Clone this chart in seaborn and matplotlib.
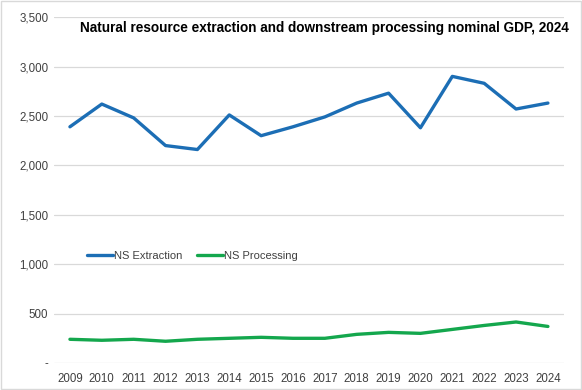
import matplotlib
matplotlib.use("Agg")
import matplotlib.pyplot as plt
import matplotlib.ticker as mticker
import seaborn as sns
import pandas as pd

years = list(range(2009, 2025))
extraction = [2390, 2620, 2480, 2200, 2160, 2510, 2300, 2390, 2490, 2630, 2730, 2380, 2900, 2830, 2570, 2630]
processing = [240, 230, 240, 220, 240, 250, 260, 250, 250, 290, 310, 300, 340, 380, 415, 370]
series_names = ["NS Extraction", "NS Processing"]
title = "Natural resource extraction and downstream processing nominal GDP, 2024"

df = pd.DataFrame({
    "year": years * 2,
    "value": extraction + processing,
    "series": [series_names[0]] * len(years) + [series_names[1]] * len(years),
})

sns.set_style("white")
plt.rcParams['font.family'] = ['Liberation Sans', 'DejaVu Sans']

fig = plt.figure(figsize=(5.82, 3.90), dpi=100)
ax = fig.add_axes([0.0928, 0.0692, 0.876, 0.887])

palette = {series_names[0]: "#1c6eb5", series_names[1]: "#14a74d"}
sns.lineplot(data=df, x="year", y="value", hue="series", palette=palette,
             linewidth=2.4, ax=ax, legend=True)

ax.set_xlim(2008.5, 2024.5)
ax.set_ylim(0, 3500)
ax.set_xticks(years)
ax.set_xticklabels([str(y) for y in years])
ax.set_yticks(range(0, 3501, 500))
ax.yaxis.set_major_formatter(mticker.FuncFormatter(lambda v, p: "-" if v == 0 else f"{int(v):,}"))
ax.grid(axis="y", color="#d9d9d9", linewidth=0.9)
ax.set_axisbelow(True)
for s in ax.spines.values():
    s.set_visible(False)
ax.tick_params(axis="both", length=0, labelsize=8.3, colors="#404040", pad=7)
ax.tick_params(axis="y", pad=4)
ax.set_xlabel("")
ax.set_ylabel("")

leg = ax.legend(loc="center left", bbox_to_anchor=(0.056, 0.309), ncol=2, frameon=False,
                fontsize=8, handlelength=2.3, handletextpad=0.15, columnspacing=1.3,
                labelcolor="#404040", borderaxespad=0)

ax.text(1.01, 0.99, title, transform=ax.transAxes, ha="right", va="top",
        fontsize=9.8, fontweight="bold", color="black")

fig.patches.append(plt.Rectangle((0.002, 0.003), 0.996, 0.994, transform=fig.transFigure,
                                 fill=False, edgecolor="#d9d9d9", linewidth=1))

fig.savefig("out.png", dpi=100)
